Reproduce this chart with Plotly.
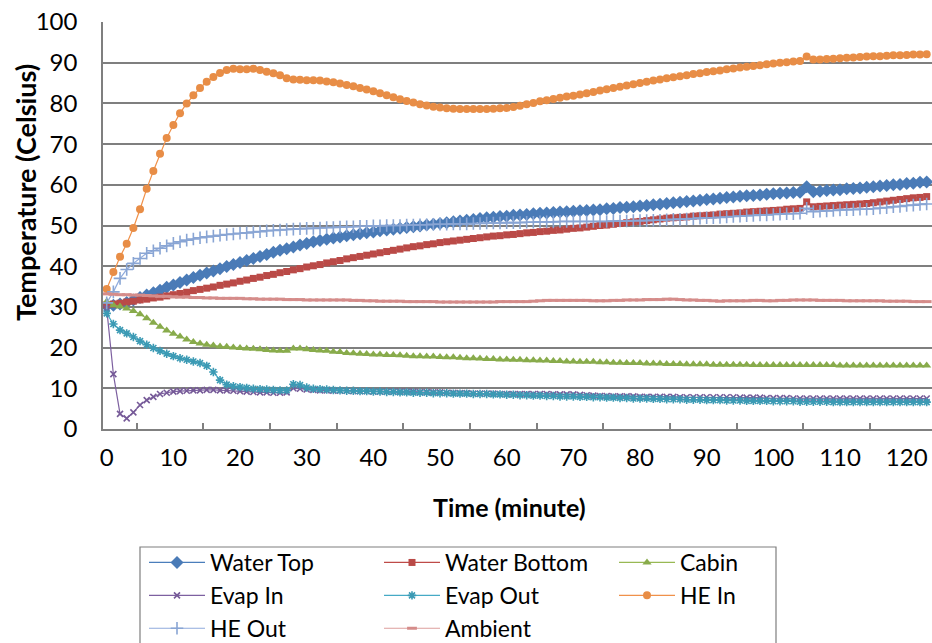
import plotly.graph_objects as go

# ---------------- data ----------------
time_min = list(range(0, 124))

water_top = [30.2, 30.4, 30.7, 31.1, 31.7, 32.3, 32.9, 33.5, 34.1, 34.8,
             35.4, 36.0, 36.6, 37.2, 37.8, 38.3, 38.8, 39.4, 39.9, 40.4,
             40.9, 41.4, 41.9, 42.4, 42.9, 43.4, 43.9, 44.3, 44.7, 45.2,
             45.6, 46.0, 46.3, 46.6, 46.9, 47.2, 47.5, 47.7, 48.0, 48.2,
             48.4, 48.7, 48.9, 49.1, 49.3, 49.5, 49.7, 49.9, 50.1, 50.3,
             50.5, 50.7, 50.9, 51.1, 51.3, 51.5, 51.7, 51.9, 52.0, 52.2,
             52.3, 52.5, 52.6, 52.7, 52.9, 53.0, 53.1, 53.2, 53.3, 53.4,
             53.5, 53.6, 53.7, 53.8, 53.9, 54.1, 54.2, 54.4, 54.5, 54.6,
             54.8, 54.9, 55.1, 55.2, 55.4, 55.6, 55.7, 55.9, 56.0, 56.2,
             56.4, 56.5, 56.7, 56.9, 57.0, 57.2, 57.3, 57.4, 57.5, 57.7,
             57.8, 57.9, 58.0, 58.1, 58.2, 59.5, 58.3, 58.4, 58.6, 58.7,
             58.8, 59.0, 59.1, 59.2, 59.4, 59.5, 59.7, 59.8, 60.0, 60.1,
             60.3, 60.4, 60.6, 60.7]

water_bottom = [30.5, 30.7, 30.9, 31.2, 31.4, 31.7, 31.9, 32.2, 32.4, 32.7,
                33.0, 33.3, 33.6, 34.0, 34.3, 34.6, 34.9, 35.3, 35.6, 35.9,
                36.3, 36.6, 37.0, 37.3, 37.7, 38.0, 38.4, 38.7, 39.1, 39.4,
                39.8, 40.1, 40.4, 40.8, 41.1, 41.4, 41.8, 42.1, 42.4, 42.7,
                43.0, 43.3, 43.6, 43.9, 44.2, 44.5, 44.8, 45.0, 45.3, 45.5,
                45.8, 46.0, 46.2, 46.4, 46.6, 46.8, 47.0, 47.2, 47.4, 47.5,
                47.7, 47.8, 48.0, 48.2, 48.3, 48.5, 48.6, 48.8, 48.9, 49.1,
                49.3, 49.4, 49.6, 49.8, 50.0, 50.1, 50.3, 50.5, 50.7, 50.9,
                51.0, 51.2, 51.4, 51.6, 51.8, 51.9, 52.0, 52.1, 52.3, 52.4,
                52.5, 52.6, 52.8, 52.9, 53.0, 53.1, 53.3, 53.4, 53.5, 53.6,
                53.7, 53.8, 54.0, 54.1, 54.2, 55.8, 54.6, 54.7, 54.8, 54.9,
                55.0, 55.1, 55.2, 55.3, 55.4, 55.6, 55.8, 56.0, 56.2, 56.4,
                56.6, 56.8, 56.9, 57.1]

cabin = [31.3, 30.4, 30.1, 29.6, 29.0, 28.2, 27.2, 26.1, 25.1, 24.2,
         23.4, 22.7, 22.0, 21.4, 21.0, 20.7, 20.5, 20.3, 20.2, 20.0,
         19.9, 19.8, 19.7, 19.6, 19.4, 19.3, 19.2, 19.2, 19.8, 19.8,
         19.6, 19.4, 19.3, 19.2, 19.0, 18.9, 18.7, 18.6, 18.5, 18.4,
         18.3, 18.3, 18.2, 18.2, 18.1, 18.0, 17.9, 17.9, 17.8, 17.8,
         17.7, 17.6, 17.6, 17.5, 17.4, 17.4, 17.3, 17.2, 17.2, 17.1,
         17.1, 17.0, 17.0, 16.9, 16.9, 16.8, 16.8, 16.7, 16.7, 16.6,
         16.6, 16.5, 16.5, 16.5, 16.4, 16.4, 16.3, 16.3, 16.2, 16.2,
         16.2, 16.1, 16.1, 16.1, 16.0, 16.0, 16.0, 15.9, 15.9, 15.9,
         15.9, 15.8, 15.8, 15.8, 15.8, 15.8, 15.8, 15.7, 15.7, 15.7,
         15.7, 15.7, 15.7, 15.7, 15.7, 15.7, 15.7, 15.7, 15.7, 15.7,
         15.6, 15.6, 15.6, 15.6, 15.6, 15.6, 15.6, 15.6, 15.6, 15.6,
         15.6, 15.6, 15.6, 15.6]

evap_in = [29.6, 13.5, 3.7, 2.6, 4.1, 5.9, 7.1, 7.9, 8.6, 8.9,
           9.2, 9.3, 9.4, 9.5, 9.5, 9.6, 9.6, 9.5, 9.5, 9.4,
           9.3, 9.2, 9.1, 9.0, 9.0, 8.9, 8.9, 9.0, 10.0, 9.9,
           9.7, 9.6, 9.5, 9.5, 9.4, 9.4, 9.4, 9.3, 9.3, 9.3,
           9.2, 9.2, 9.2, 9.2, 9.2, 9.2, 9.2, 9.1, 9.1, 9.0,
           9.0, 8.9, 8.9, 8.8, 8.8, 8.7, 8.7, 8.7, 8.7, 8.6,
           8.6, 8.6, 8.6, 8.6, 8.6, 8.6, 8.6, 8.5, 8.5, 8.5,
           8.5, 8.4, 8.3, 8.2, 8.1, 8.1, 8.0, 8.0, 8.0, 8.0,
           7.9, 7.9, 7.9, 7.9, 7.9, 7.9, 7.8, 7.8, 7.8, 7.8,
           7.8, 7.8, 7.8, 7.8, 7.8, 7.7, 7.7, 7.7, 7.7, 7.6,
           7.6, 7.6, 7.6, 7.5, 7.5, 7.5, 7.5, 7.5, 7.5, 7.5,
           7.5, 7.5, 7.5, 7.5, 7.5, 7.5, 7.5, 7.5, 7.5, 7.5,
           7.5, 7.5, 7.5, 7.5]

evap_out = [28.4, 25.8, 24.3, 23.5, 22.6, 21.6, 20.7, 19.9, 19.2, 18.5,
            17.9, 17.4, 17.0, 16.6, 16.2, 15.5, 14.0, 12.0, 10.9, 10.5,
            10.3, 10.1, 9.9, 9.8, 9.7, 9.6, 9.5, 9.5, 11.0, 10.8,
            10.2, 9.9, 9.8, 9.7, 9.6, 9.5, 9.4, 9.4, 9.3, 9.3,
            9.2, 9.2, 9.1, 9.1, 9.0, 9.0, 8.9, 8.9, 8.9, 8.8,
            8.8, 8.8, 8.7, 8.7, 8.7, 8.6, 8.6, 8.6, 8.5, 8.5,
            8.4, 8.4, 8.3, 8.3, 8.2, 8.2, 8.1, 8.1, 8.0, 8.0,
            8.0, 7.9, 7.9, 7.8, 7.8, 7.7, 7.7, 7.6, 7.6, 7.5,
            7.5, 7.5, 7.4, 7.4, 7.3, 7.3, 7.3, 7.2, 7.2, 7.2,
            7.1, 7.1, 7.1, 7.0, 7.0, 7.0, 6.9, 6.9, 6.9, 6.9,
            6.8, 6.8, 6.8, 6.8, 6.7, 6.7, 6.7, 6.7, 6.7, 6.6,
            6.6, 6.6, 6.6, 6.6, 6.6, 6.6, 6.6, 6.6, 6.6, 6.6,
            6.6, 6.6, 6.6, 6.6]

he_in = [34.4, 38.6, 42.3, 45.5, 49.4, 54.0, 59.0, 63.4, 67.6, 71.5,
         74.7, 77.6, 80.0, 82.0, 83.8, 85.3, 86.5, 87.5, 88.2, 88.5,
         88.4, 88.4, 88.5, 88.2, 87.8, 87.4, 86.9, 86.2, 85.9, 85.8,
         85.7, 85.7, 85.6, 85.4, 85.2, 84.9, 84.5, 84.2, 83.8, 83.4,
         83.0, 82.5, 82.0, 81.5, 81.0, 80.6, 80.2, 79.8, 79.5, 79.2,
         79.0, 78.8, 78.7, 78.6, 78.6, 78.6, 78.6, 78.6, 78.7, 78.8,
         78.9, 79.1, 79.4, 79.8, 80.1, 80.5, 80.8, 81.1, 81.4, 81.7,
         81.9, 82.2, 82.5, 82.8, 83.2, 83.5, 83.8, 84.1, 84.4, 84.7,
         85.0, 85.3, 85.6, 85.9, 86.2, 86.4, 86.7, 86.9, 87.2, 87.4,
         87.7, 87.9, 88.1, 88.4, 88.6, 88.8, 89.0, 89.2, 89.4, 89.6,
         89.8, 90.0, 90.1, 90.3, 90.4, 91.5, 90.8, 90.8, 90.9, 91.0,
         91.1, 91.2, 91.3, 91.4, 91.5, 91.6, 91.6, 91.7, 91.8, 91.8,
         91.9, 92.0, 92.0, 92.1]

he_out = [31.0, 33.7, 37.0, 39.2, 40.7, 41.9, 43.2, 43.8, 44.4, 45.0,
          45.6, 46.0, 46.4, 46.7, 47.0, 47.2, 47.4, 47.6, 47.8, 47.9,
          48.1, 48.2, 48.4, 48.5, 48.7, 48.8, 48.9, 49.0, 49.1, 49.2,
          49.3, 49.3, 49.4, 49.5, 49.5, 49.6, 49.7, 49.7, 49.8, 49.8,
          49.9, 49.9, 50.0, 50.0, 50.0, 50.1, 50.1, 50.2, 50.2, 50.3,
          50.3, 50.3, 50.4, 50.4, 50.4, 50.5, 50.5, 50.6, 50.6, 50.6,
          50.7, 50.7, 50.7, 50.8, 50.8, 50.9, 50.9, 50.9, 51.0, 51.0,
          51.0, 51.0, 51.0, 51.0, 51.0, 51.0, 51.1, 51.1, 51.1, 51.2,
          51.2, 51.2, 51.3, 51.3, 51.4, 51.5, 51.5, 51.6, 51.7, 51.8,
          51.9, 51.9, 52.0, 52.1, 52.2, 52.3, 52.4, 52.5, 52.6, 52.6,
          52.7, 52.8, 52.9, 52.9, 53.0, 54.2, 53.4, 53.5, 53.6, 53.7,
          53.8, 53.9, 53.9, 54.0, 54.0, 54.1, 54.3, 54.4, 54.6, 54.7,
          54.9, 55.0, 55.2, 55.3]

ambient = [33.2, 33.1, 33.0, 33.0, 32.9, 32.9, 32.8, 32.7, 32.6, 32.6,
           32.5, 32.4, 32.4, 32.3, 32.3, 32.2, 32.2, 32.1, 32.1, 32.1,
           32.1, 32.0, 32.0, 31.9, 31.9, 31.9, 31.9, 31.8, 31.8, 31.8,
           31.7, 31.7, 31.7, 31.7, 31.7, 31.7, 31.7, 31.6, 31.6, 31.5,
           31.5, 31.4, 31.4, 31.4, 31.4, 31.3, 31.3, 31.3, 31.3, 31.3,
           31.2, 31.2, 31.2, 31.2, 31.2, 31.2, 31.2, 31.2, 31.2, 31.3,
           31.3, 31.3, 31.3, 31.3, 31.4, 31.5, 31.6, 31.6, 31.6, 31.6,
           31.6, 31.6, 31.6, 31.5, 31.5, 31.5, 31.6, 31.6, 31.7, 31.7,
           31.7, 31.8, 31.8, 31.8, 31.9, 31.9, 31.8, 31.7, 31.7, 31.6,
           31.6, 31.5, 31.4, 31.5, 31.5, 31.5, 31.5, 31.6, 31.6, 31.5,
           31.5, 31.6, 31.6, 31.7, 31.7, 31.7, 31.7, 31.6, 31.6, 31.6,
           31.6, 31.5, 31.5, 31.5, 31.5, 31.5, 31.5, 31.4, 31.4, 31.4,
           31.4, 31.3, 31.3, 31.3]

y_tick_values = [0, 10, 20, 30, 40, 50, 60, 70, 80, 90, 100]
x_tick_values = [0, 10, 20, 30, 40, 50, 60, 70, 80, 90, 100, 110, 120]

FONT = "Lato, 'Open Sans', sans-serif"

series = [
    ("Water Top", water_top, "#4A7EBB", dict(symbol="diamond", size=10, color="#4A7BB7",
                                             line=dict(width=0))),
    ("Water Bottom", water_bottom, "#BE4B48", dict(symbol="square", size=7, color="#BA4A47",
                                                   line=dict(width=0))),
    ("Cabin", cabin, "#98B954", dict(symbol="triangle-up", size=8, color="#88AB4B",
                                     line=dict(width=0))),
    ("Evap In", evap_in, "#7D60A0", dict(symbol="x-thin", size=6, color="#765A98",
                                         line=dict(width=1.6, color="#765A98"))),
    ("Evap Out", evap_out, "#46AAC5", dict(symbol="asterisk", size=7, color="#3B9AB4",
                                           line=dict(width=1.6, color="#3B9AB4"))),
    ("HE In", he_in, "#F0914A", dict(symbol="circle", size=8, color="#E88D46",
                                     line=dict(width=0))),
    ("HE Out", he_out, "#8FAADC", dict(symbol="cross-thin", size=9, color="#89A5D4",
                                       line=dict(width=1.6, color="#89A5D4"))),
    ("Ambient", ambient, "#DD9E9C", dict(symbol="line-ew", size=7, color="#D58C8A",
                                         line=dict(width=3, color="#D58C8A"))),
]

fig = go.Figure()
for name, vals, lcol, mk in series:
    fig.add_trace(go.Scatter(
        x=time_min, y=vals, name=name, mode="lines+markers",
        line=dict(color=lcol, width=1.2),
        marker=mk,
    ))

PLOT_L, PLOT_R, PLOT_T, PLOT_B = 103, 932, 22, 429
PW, PH = PLOT_R - PLOT_L, PLOT_B - PLOT_T


def px_x(px):
    return (px - PLOT_L) / PW


def px_y(py):
    return (PLOT_B - py) / PH


fig.update_layout(
    width=932, height=643,
    margin=dict(l=PLOT_L, r=932 - PLOT_R, t=PLOT_T, b=643 - PLOT_B),
    paper_bgcolor="white", plot_bgcolor="white",
    font=dict(family=FONT, size=22, color="#000000"),
    showlegend=True,
    legend=dict(
        orientation="h",
        xref="container", yref="container",
        x=144 / 932, y=1 - 541 / 643,
        xanchor="left", yanchor="top",
        itemwidth=56,
        entrywidth=164,
        font=dict(family=FONT, size=23, color="#000000"),
        borderwidth=0,
        bgcolor="rgba(255,255,255,0)",
        traceorder="normal",
    ),
    shapes=[
        # legend frame drawn as a shape (narrower than the fixed-width entries)
        dict(type="rect", xref="paper", yref="paper",
             x0=px_x(140), x1=px_x(776), y0=px_y(547), y1=px_y(660),
             line=dict(color="#7F7F7F", width=1.2), fillcolor="rgba(0,0,0,0)",
             layer="above"),
    ],
    xaxis=dict(
        range=[-0.555, 123.8],
        tickmode="array", tickvals=x_tick_values,
        ticktext=[str(v) for v in x_tick_values],
        showgrid=False, zeroline=False,
        showline=True, linecolor="#808080", linewidth=1.5,
        ticks="", ticklabelstandoff=6,
        tickfont=dict(family=FONT, size=24),
        minor=dict(ticks="inside", tick0=4.5, dtick=10, ticklen=6,
                   tickcolor="#808080", tickwidth=1.5, showgrid=False),
    ),
    yaxis=dict(
        range=[0, 100],
        tickmode="array", tickvals=y_tick_values,
        ticktext=[str(v) for v in y_tick_values],
        showgrid=True, gridcolor="#7F7F7F", gridwidth=1.6,
        zeroline=False,
        showline=True, linecolor="#7F7F7F", linewidth=1.6,
        ticks="", ticklabelstandoff=19,
        tickfont=dict(family=FONT, size=24),
    ),
    annotations=[
        dict(text="<b>Temperature (Celsius)</b>", xref="paper", yref="paper",
             x=px_x(25), y=px_y(193), textangle=-90,
             showarrow=False, xanchor="center", yanchor="middle",
             font=dict(family=FONT, size=27, color="#000000")),
        dict(text="<b>Time (minute)</b>", xref="paper", yref="paper",
             x=px_x(509), y=px_y(507),
             showarrow=False, xanchor="center", yanchor="middle",
             font=dict(family=FONT, size=25, color="#000000")),
    ],
)

fig.write_html("out.html", config={"displayModeBar": False})
